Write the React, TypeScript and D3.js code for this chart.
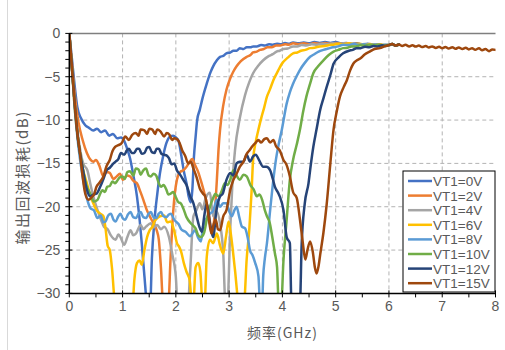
import React from 'react';
import * as d3 from 'd3';

type Pt = [number, number];

// Frequency axis (GHz) and return-loss axis (dB)
const X_TICKS = [0, 1, 2, 3, 4, 5, 6, 7, 8];
const Y_TICKS = [0, -5, -10, -15, -20, -25, -30];
const SERIES_LABELS = ['VT1=0V', 'VT1=2V', 'VT1=4V', 'VT1=6V', 'VT1=8V', 'VT1=10V', 'VT1=12V', 'VT1=15V'];
const SERIES_COLORS = ['#4472C4', '#ED7D31', '#A5A5A5', '#FFC000', '#5B9BD5', '#70AD47', '#264478', '#9E480E'];

// Measured output return loss, [frequency GHz, dB]
const vt0: Pt[] = [[0,0],[0.05,-3],[0.1,-6],[0.15,-8.5],[0.22,-9.8],[0.3,-10.6],[0.37,-10.9],[0.45,-11.2],[0.52,-11.0],[0.6,-11.4],[0.67,-11.2],[0.75,-11.8],[0.82,-11.6],[0.9,-12.1],[0.97,-12.0],[1.03,-12.4],[1.08,-13.2],[1.14,-14.4],[1.2,-16.3],[1.27,-18.8],[1.32,-21.5],[1.36,-24.2],[1.41,-28],[1.46,-31],[1.52,-31],[1.55,-26],[1.6,-21.5],[1.65,-18.6],[1.7,-16.2],[1.76,-14.2],[1.82,-12.7],[1.89,-11.9],[1.95,-11.8],[2.0,-12.0],[2.05,-12.4],[2.1,-14],[2.15,-15.9],[2.2,-17.3],[2.24,-18.8],[2.28,-19.5],[2.31,-18],[2.34,-14.2],[2.37,-12],[2.4,-10],[2.45,-8.8],[2.5,-7.5],[2.58,-5.8],[2.65,-4.5],[2.7,-3.8],[2.77,-3.1],[2.83,-2.7],[2.89,-2.6],[2.95,-2.3],[3.02,-2.2],[3.08,-2.0],[3.14,-2.0],[3.2,-1.7],[3.27,-1.8],[3.33,-1.6],[3.4,-1.6],[3.45,-1.5],[3.52,-1.5],[3.6,-1.35],[3.67,-1.4],[3.75,-1.25],[3.82,-1.3],[3.9,-1.2],[3.97,-1.25],[4.05,-1.1],[4.12,-1.2],[4.2,-1.05],[4.3,-1.15],[4.4,-1.05],[4.5,-1.15],[4.6,-1.0],[4.7,-1.1],[4.8,-1.0],[4.9,-1.1],[5.0,-1.0],[5.1,-1.15],[5.2,-1.1],[5.3,-1.2],[5.4,-1.15],[5.5,-1.28],[5.6,-1.2],[5.7,-1.32],[5.8,-1.25],[5.9,-1.38],[6.0,-1.35],[6.06,-1.22],[6.12,-1.4],[6.19,-1.28]];

const vt2: Pt[] = [[0,0],[0.05,-3.5],[0.1,-7],[0.17,-10.2],[0.25,-12.3],[0.33,-13.8],[0.4,-14.6],[0.45,-14.8],[0.5,-14.6],[0.56,-15.2],[0.64,-16.5],[0.7,-16.0],[0.76,-16.1],[0.83,-16.8],[0.89,-16.5],[0.95,-16.2],[1.01,-16.9],[1.08,-16.4],[1.14,-16.5],[1.2,-17.0],[1.27,-17.3],[1.33,-18.2],[1.39,-19.2],[1.45,-20.3],[1.51,-21.1],[1.57,-21.8],[1.64,-22.7],[1.68,-23.8],[1.72,-27],[1.76,-31],[1.86,-31],[1.9,-26],[1.94,-21.5],[1.98,-18.5],[2.02,-16.9],[2.08,-16.0],[2.14,-15.8],[2.2,-15.4],[2.26,-14.8],[2.31,-14.5],[2.36,-15.2],[2.42,-16],[2.48,-17.2],[2.55,-18.8],[2.62,-20.8],[2.68,-23.2],[2.72,-21.5],[2.77,-16.9],[2.8,-13.5],[2.83,-11.1],[2.89,-8.3],[2.95,-6.5],[3.02,-5.2],[3.08,-4.4],[3.14,-3.8],[3.22,-3.2],[3.33,-2.7],[3.4,-2.5],[3.45,-2.2],[3.52,-2.1],[3.58,-1.9],[3.65,-1.8],[3.72,-1.6],[3.8,-1.6],[3.88,-1.4],[3.96,-1.4],[4.05,-1.25],[4.12,-1.3],[4.2,-1.15],[4.3,-1.25],[4.4,-1.15],[4.5,-1.25],[4.6,-1.1],[4.7,-1.2],[4.8,-1.1],[4.9,-1.2],[5.0,-1.1],[5.1,-1.2],[5.2,-1.15],[5.3,-1.25],[5.4,-1.2],[5.5,-1.3],[5.6,-1.25],[5.7,-1.35],[5.8,-1.28],[5.9,-1.38],[6.0,-1.35],[6.06,-1.22],[6.12,-1.4],[6.19,-1.28]];

const vt4: Pt[] = [[0,0],[0.05,-4],[0.1,-8],[0.17,-12],[0.26,-15],[0.34,-15.8],[0.4,-17.5],[0.45,-18.8],[0.53,-20.4],[0.6,-21.6],[0.65,-22.3],[0.72,-22.6],[0.78,-23.3],[0.87,-23.8],[0.92,-23.2],[0.96,-23.5],[1.03,-24.4],[1.09,-23.5],[1.15,-22.7],[1.2,-23.3],[1.25,-23.1],[1.34,-22.1],[1.39,-22.6],[1.44,-22.3],[1.53,-21.9],[1.58,-22.4],[1.65,-22.1],[1.72,-22.6],[1.78,-22.3],[1.87,-23.5],[1.93,-25.4],[2.0,-28.1],[2.03,-31],[2.23,-31],[2.27,-27.3],[2.33,-21.1],[2.38,-20.5],[2.45,-19.6],[2.5,-20.3],[2.56,-19],[2.64,-18.4],[2.7,-21.1],[2.76,-20.5],[2.83,-22],[2.89,-25.4],[2.93,-31],[2.97,-31],[3.02,-22.7],[3.06,-17.5],[3.11,-13.5],[3.2,-9.8],[3.3,-7.1],[3.38,-5.6],[3.45,-4.6],[3.55,-3.7],[3.64,-3.1],[3.75,-2.6],[3.82,-2.4],[3.89,-2.1],[3.95,-2.0],[4.02,-1.8],[4.1,-1.75],[4.2,-1.5],[4.28,-1.5],[4.36,-1.35],[4.45,-1.4],[4.55,-1.25],[4.65,-1.3],[4.75,-1.2],[4.85,-1.25],[4.95,-1.15],[5.05,-1.25],[5.15,-1.15],[5.25,-1.25],[5.35,-1.2],[5.45,-1.3],[5.55,-1.22],[5.65,-1.33],[5.75,-1.26],[5.85,-1.36],[5.95,-1.3],[6.0,-1.35],[6.06,-1.22],[6.12,-1.4],[6.19,-1.28]];

const vt6: Pt[] = [[0,0],[0.05,-4],[0.1,-8.5],[0.17,-12.5],[0.25,-15.5],[0.33,-17.3],[0.4,-18.8],[0.45,-19.6],[0.51,-20.4],[0.58,-20.8],[0.64,-21.1],[0.68,-22.5],[0.72,-24.5],[0.76,-25],[0.8,-27],[0.86,-31],[1.19,-31],[1.22,-28.5],[1.27,-26.5],[1.32,-26.2],[1.36,-26.7],[1.41,-25],[1.46,-23.5],[1.51,-22.7],[1.56,-22.3],[1.61,-21.6],[1.65,-21.3],[1.7,-21.1],[1.78,-21.0],[1.84,-21.8],[1.9,-21.7],[1.97,-22.8],[2.02,-24.2],[2.06,-24.6],[2.1,-25.2],[2.15,-26.5],[2.2,-27.5],[2.26,-28.5],[2.3,-31],[2.33,-31],[2.37,-27],[2.42,-26.5],[2.46,-27.5],[2.5,-31],[2.54,-31],[2.58,-25.8],[2.64,-23.8],[2.7,-24.2],[2.77,-23.1],[2.83,-24.5],[2.89,-25.4],[2.94,-23.5],[2.99,-21.7],[3.04,-23.5],[3.11,-27.3],[3.18,-31],[3.28,-31],[3.33,-26],[3.38,-22.5],[3.42,-18.4],[3.45,-14.6],[3.5,-12.5],[3.55,-11.1],[3.61,-9.6],[3.66,-8.5],[3.71,-7.3],[3.77,-6.4],[3.83,-5.4],[3.92,-4.3],[3.99,-3.5],[4.1,-2.8],[4.2,-2.3],[4.28,-2.2],[4.35,-2.0],[4.43,-1.9],[4.52,-1.7],[4.6,-1.65],[4.7,-1.5],[4.8,-1.45],[4.88,-1.35],[4.96,-1.3],[5.05,-1.2],[5.15,-1.25],[5.25,-1.15],[5.35,-1.25],[5.45,-1.18],[5.55,-1.3],[5.65,-1.22],[5.75,-1.33],[5.85,-1.27],[5.95,-1.37],[6.0,-1.35],[6.06,-1.22],[6.12,-1.4],[6.19,-1.28]];

const vt8: Pt[] = [[0,0],[0.05,-4],[0.1,-8.5],[0.17,-13],[0.25,-16.5],[0.33,-19],[0.4,-20.2],[0.46,-20.4],[0.53,-21.3],[0.59,-21],[0.64,-21.8],[0.68,-21.7],[0.73,-21],[0.78,-20.8],[0.83,-21.5],[0.87,-21.7],[0.92,-21.1],[0.96,-20.8],[1.0,-21.3],[1.05,-21.5],[1.1,-20.9],[1.15,-20.6],[1.2,-21.2],[1.25,-21.3],[1.3,-20.8],[1.34,-20.6],[1.39,-21.2],[1.44,-21.3],[1.49,-20.8],[1.53,-20.6],[1.58,-21.2],[1.63,-21.3],[1.68,-20.8],[1.72,-20.6],[1.77,-21.1],[1.82,-21.2],[1.87,-20.9],[1.91,-20.8],[1.96,-21.4],[2.0,-21.7],[2.05,-22],[2.1,-22.6],[2.18,-22.9],[2.27,-23.4],[2.32,-23],[2.36,-22.7],[2.42,-23.6],[2.47,-24],[2.51,-22.3],[2.57,-21.4],[2.64,-20.8],[2.7,-20.5],[2.77,-19.2],[2.83,-20],[2.89,-19.6],[2.95,-19.6],[3.0,-20.5],[3.05,-21.1],[3.1,-20.4],[3.14,-20],[3.19,-21.2],[3.24,-22.3],[3.3,-22.5],[3.35,-23.6],[3.39,-25],[3.44,-25.6],[3.49,-26.5],[3.55,-28],[3.58,-31],[3.62,-31],[3.64,-28],[3.67,-26],[3.71,-24.2],[3.77,-20.4],[3.83,-16.9],[3.88,-14.5],[3.93,-12.8],[3.99,-11.1],[4.08,-8.1],[4.14,-6.8],[4.2,-5.8],[4.27,-4.9],[4.33,-4.2],[4.42,-3.4],[4.52,-2.7],[4.6,-2.4],[4.68,-2.1],[4.77,-1.9],[4.86,-1.75],[4.95,-1.6],[5.05,-1.5],[5.14,-1.3],[5.24,-1.35],[5.34,-1.22],[5.44,-1.32],[5.54,-1.25],[5.64,-1.35],[5.74,-1.27],[5.84,-1.37],[5.94,-1.3],[6.0,-1.35],[6.06,-1.22],[6.12,-1.4],[6.19,-1.28]];

const vt10: Pt[] = [[0,0],[0.05,-4],[0.1,-8],[0.17,-12.5],[0.25,-15.5],[0.32,-17.5],[0.4,-18.6],[0.46,-19.4],[0.53,-19.2],[0.58,-18.5],[0.62,-18.1],[0.67,-18.3],[0.71,-17.7],[0.76,-17.6],[0.81,-17.1],[0.86,-17.3],[0.9,-17.0],[0.95,-16.6],[1.0,-16.5],[1.04,-16.8],[1.09,-16.0],[1.14,-15.9],[1.2,-16.4],[1.25,-15.6],[1.3,-15.7],[1.34,-16.3],[1.39,-15.8],[1.44,-15.6],[1.49,-16.4],[1.53,-16.5],[1.58,-16.2],[1.63,-16.4],[1.68,-17.3],[1.72,-17.7],[1.77,-17.5],[1.82,-18.0],[1.86,-18.6],[1.9,-18.5],[1.95,-18.3],[2.0,-18.9],[2.05,-19.5],[2.09,-19.6],[2.14,-20.2],[2.2,-21.2],[2.28,-21.9],[2.33,-22.2],[2.37,-22.5],[2.42,-23.3],[2.47,-23.5],[2.53,-23.0],[2.58,-21.5],[2.64,-20],[2.7,-19.0],[2.74,-18.5],[2.8,-18.8],[2.86,-18.2],[2.92,-17.3],[2.97,-17.5],[3.02,-16.9],[3.08,-15.8],[3.14,-16.4],[3.2,-16.9],[3.27,-16.3],[3.33,-16.5],[3.4,-17.5],[3.46,-18.0],[3.52,-18.8],[3.57,-18.6],[3.62,-19.2],[3.67,-20.4],[3.71,-21.1],[3.76,-21.8],[3.81,-23.5],[3.86,-25.4],[3.9,-27],[3.93,-31],[3.98,-31],[4.02,-26.2],[4.08,-21.5],[4.14,-16.9],[4.2,-14.6],[4.27,-12.8],[4.33,-11.1],[4.39,-9.0],[4.45,-7.3],[4.52,-5.8],[4.58,-4.6],[4.67,-3.8],[4.77,-3.1],[4.87,-2.5],[4.96,-2.1],[5.05,-1.9],[5.14,-1.7],[5.22,-1.65],[5.3,-1.5],[5.38,-1.5],[5.46,-1.38],[5.55,-1.42],[5.64,-1.3],[5.73,-1.38],[5.82,-1.3],[5.91,-1.4],[6.0,-1.35],[6.06,-1.22],[6.12,-1.4],[6.19,-1.28]];

const vt12: Pt[] = [[0,0],[0.05,-4],[0.1,-8],[0.17,-12.5],[0.25,-15.5],[0.32,-17.8],[0.39,-18.8],[0.45,-18.6],[0.51,-18.5],[0.58,-17.7],[0.64,-16.8],[0.7,-15.8],[0.76,-15.5],[0.83,-15],[0.87,-14.8],[0.92,-14.5],[0.97,-13.8],[1.03,-14],[1.08,-13.5],[1.12,-13.3],[1.17,-13.8],[1.22,-13.8],[1.27,-13.3],[1.31,-13.3],[1.36,-13.9],[1.41,-13.8],[1.46,-13.2],[1.5,-13.1],[1.55,-13.7],[1.6,-13.8],[1.64,-13.3],[1.68,-13.3],[1.73,-13.9],[1.78,-14],[1.83,-14.1],[1.87,-14.4],[1.92,-15.1],[1.97,-15],[2.02,-15.8],[2.08,-16.3],[2.14,-16.9],[2.2,-17.5],[2.27,-18.8],[2.33,-19.6],[2.39,-21.1],[2.44,-22.3],[2.49,-22.9],[2.53,-21.2],[2.58,-19.6],[2.64,-21.9],[2.7,-23.5],[2.76,-20.5],[2.83,-18.8],[2.88,-18.5],[2.95,-16.9],[3.02,-16.1],[3.08,-16.4],[3.14,-15.0],[3.2,-14.8],[3.27,-14.8],[3.33,-14.0],[3.39,-14.8],[3.45,-14.2],[3.5,-14.0],[3.56,-14.6],[3.64,-15.4],[3.7,-15.4],[3.77,-15.8],[3.82,-16.8],[3.86,-17.7],[3.92,-18.4],[3.95,-18.8],[4.02,-20.4],[4.08,-23.5],[4.14,-24.2],[4.17,-31],[4.33,-31],[4.36,-24.6],[4.42,-19.6],[4.49,-17.3],[4.53,-15.3],[4.58,-13.1],[4.64,-11.1],[4.71,-8.8],[4.77,-7.5],[4.83,-6.2],[4.9,-4.8],[4.96,-3.5],[5.05,-2.8],[5.14,-2.3],[5.25,-2.0],[5.32,-1.9],[5.39,-1.7],[5.47,-1.7],[5.55,-1.55],[5.63,-1.6],[5.71,-1.45],[5.79,-1.5],[5.87,-1.38],[5.94,-1.45],[6.0,-1.35],[6.06,-1.22],[6.12,-1.4],[6.19,-1.28]];

const vt15: Pt[] = [[0,0],[0.05,-4],[0.1,-8],[0.15,-11.5],[0.2,-13.8],[0.24,-16],[0.3,-18.5],[0.36,-19.2],[0.42,-18.9],[0.47,-18.5],[0.51,-17.7],[0.57,-17.2],[0.64,-16.5],[0.7,-15.3],[0.76,-14.6],[0.81,-13.6],[0.86,-13.1],[0.92,-12.9],[0.98,-12.7],[1.05,-11.9],[1.12,-12.3],[1.18,-11.7],[1.25,-11.5],[1.3,-11.8],[1.34,-11.1],[1.41,-11.2],[1.46,-11.6],[1.5,-11.0],[1.56,-11.1],[1.61,-11.6],[1.65,-11.1],[1.71,-11.3],[1.78,-11.9],[1.83,-11.5],[1.88,-11.7],[1.93,-12.3],[1.97,-12.1],[2.02,-12.2],[2.06,-12.5],[2.12,-13.5],[2.18,-14.2],[2.23,-15.0],[2.28,-14.8],[2.33,-15.6],[2.39,-16.6],[2.45,-17.9],[2.51,-18.5],[2.55,-18.8],[2.6,-20.5],[2.64,-22.3],[2.67,-23.1],[2.71,-22],[2.75,-21.5],[2.79,-22.6],[2.83,-22.7],[2.89,-21.1],[2.95,-20.4],[3.02,-18.1],[3.08,-16.9],[3.14,-16.2],[3.2,-15.4],[3.27,-14.8],[3.33,-13.9],[3.38,-13.5],[3.44,-13],[3.5,-12.6],[3.55,-12.3],[3.6,-12.6],[3.66,-12.2],[3.71,-12.1],[3.77,-12.6],[3.83,-12.3],[3.88,-13.0],[3.95,-13.5],[4.02,-14.6],[4.08,-15.2],[4.14,-16.5],[4.2,-18.3],[4.27,-19],[4.33,-21.5],[4.38,-24],[4.43,-26.1],[4.47,-25],[4.52,-24],[4.57,-25.2],[4.61,-27],[4.64,-27.7],[4.68,-26.8],[4.71,-25.5],[4.77,-23],[4.83,-19.8],[4.9,-15],[4.96,-11.1],[5.02,-9],[5.08,-7.3],[5.15,-6.2],[5.21,-5.4],[5.27,-4.3],[5.33,-3.5],[5.4,-3.1],[5.46,-2.9],[5.55,-2.4],[5.64,-2.1],[5.73,-1.8],[5.83,-1.7],[5.92,-1.5],[6.0,-1.35],[6.06,-1.22],[6.12,-1.4],[6.19,-1.28],[6.25,-1.45],[6.31,-1.32],[6.38,-1.5],[6.44,-1.36],[6.5,-1.52],[6.56,-1.4],[6.62,-1.58],[6.69,-1.45],[6.75,-1.62],[6.81,-1.5],[6.88,-1.68],[6.94,-1.55],[7.0,-1.72],[7.06,-1.58],[7.12,-1.75],[7.19,-1.6],[7.25,-1.78],[7.31,-1.62],[7.38,-1.8],[7.44,-1.66],[7.5,-1.85],[7.56,-1.7],[7.62,-1.88],[7.69,-1.72],[7.75,-1.95],[7.81,-1.8],[7.88,-2.05],[7.94,-1.85],[8.0,-1.9]];

const SERIES: Pt[][] = [vt0, vt2, vt4, vt6, vt8, vt10, vt12, vt15];

const W = 505;
const H = 350;
const M = { left: 69.3, right: 495.5, top: 33.4, bottom: 293.4 };
const TEXT = '#595959';
const FONT = '"Liberation Sans", Arial, sans-serif';
const CJK = '"Noto Sans CJK SC", sans-serif';

export default function App() {
  const x = d3.scaleLinear().domain([0, 8]).range([M.left, M.right]);
  const y = d3.scaleLinear().domain([0, -30]).range([M.top, M.bottom]);
  const line = d3.line<Pt>().x(d => x(d[0])).y(d => y(d[1])).curve(d3.curveMonotoneX);
  const fmt = d3.format('d');

  const minorX = d3.range(0, 8.01, 0.5);
  const minorY = d3.range(0, -30.01, -1);

  const legX = 403;
  const legY = 171;
  const legW = 92;
  const legH = 121;
  const rowH = 14.6;

  return (
    <svg width={W} height={H} style={{ position: 'absolute', left: 0, top: 0, background: '#fff' }}>
      <defs>
        <clipPath id="plot-clip">
          <rect x={M.left} y={M.top} width={M.right - M.left} height={M.bottom - M.top} />
        </clipPath>
      </defs>
      <rect x={0} y={0} width={W} height={H} fill="#fff" />
      <line x1={7.5} x2={7.5} y1={0} y2={H} stroke="#d9d9d9" strokeWidth={1} />

      {/* gridlines */}
      {X_TICKS.filter(t => t > 0 && t < 8).map(t => (
        <line key={'gx' + t} x1={x(t)} x2={x(t)} y1={M.top} y2={M.bottom} stroke="#b3b3b3" strokeWidth={1} strokeDasharray="4,3" />
      ))}
      {Y_TICKS.filter(t => t < 0 && t > -30).map(t => (
        <line key={'gy' + t} x1={M.left} x2={M.right} y1={y(t)} y2={y(t)} stroke="#b3b3b3" strokeWidth={1} strokeDasharray="4,3" />
      ))}
      <line x1={M.left} x2={M.right} y1={M.top} y2={M.top} stroke="#7f7f7f" strokeWidth={1.5} />

      {/* series */}
      <g clipPath="url(#plot-clip)">
        {SERIES.map((s, i) => (
          <path key={i} d={line(s) || ''} fill="none" stroke={SERIES_COLORS[i]} strokeWidth={2.5} strokeLinejoin="round" strokeLinecap="round" />
        ))}
      </g>

      {/* axes */}
      <line x1={M.left} x2={M.left} y1={M.top} y2={M.bottom} stroke="#000" strokeWidth={1.5} />
      <line x1={M.left} x2={M.right} y1={M.bottom} y2={M.bottom} stroke="#000" strokeWidth={1.5} />
      {minorY.map(t => {
        const major = Math.abs(t % 5) < 1e-6;
        return <line key={'ty' + t} x1={M.left - 4} x2={M.left + (major ? 3 : 0)} y1={y(t)} y2={y(t)} stroke="#000" strokeWidth={1} />;
      })}
      {minorX.map(t => {
        const major = Math.abs(t % 1) < 1e-6;
        return <line key={'tx' + t} x1={x(t)} x2={x(t)} y1={M.bottom - (major ? 3 : 0)} y2={M.bottom + 4} stroke="#000" strokeWidth={1} />;
      })}

      {Y_TICKS.map(t => (
        <text key={'ly' + t} x={M.left - 9} y={y(t) + 5} textAnchor="end" fontFamily={FONT} fontSize={14} fill={TEXT}>{fmt(t)}</text>
      ))}
      {X_TICKS.map(t => (
        <text key={'lx' + t} x={x(t)} y={311} textAnchor="middle" fontFamily={FONT} fontSize={14} fill={TEXT}>{fmt(t)}</text>
      ))}

      <text x={(M.left + M.right) / 2} y={338} textAnchor="middle" fontFamily={CJK} fontSize={14} letterSpacing={1} fill={TEXT}>频率(GHz)</text>
      <text transform={`translate(28,${(M.top + M.bottom) / 2 + 14}) rotate(-90)`} textAnchor="middle" fontFamily={CJK} fontSize={15} letterSpacing={1.5} fill={TEXT}>输出回波损耗(dB)</text>

      {/* legend */}
      <rect x={legX} y={legY} width={legW} height={legH} fill="#fff" stroke="#000" strokeWidth={1} />
      {SERIES_LABELS.map((lab, i) => {
        const cy = legY + 10 + i * rowH;
        return (
          <g key={lab}>
            <line x1={legX + 5} x2={legX + 29} y1={cy} y2={cy} stroke={SERIES_COLORS[i]} strokeWidth={2.5} />
            <text x={legX + 30} y={cy + 5} fontFamily={FONT} fontSize={13.5} fill={TEXT}>{lab}</text>
          </g>
        );
      })}
    </svg>
  );
}
